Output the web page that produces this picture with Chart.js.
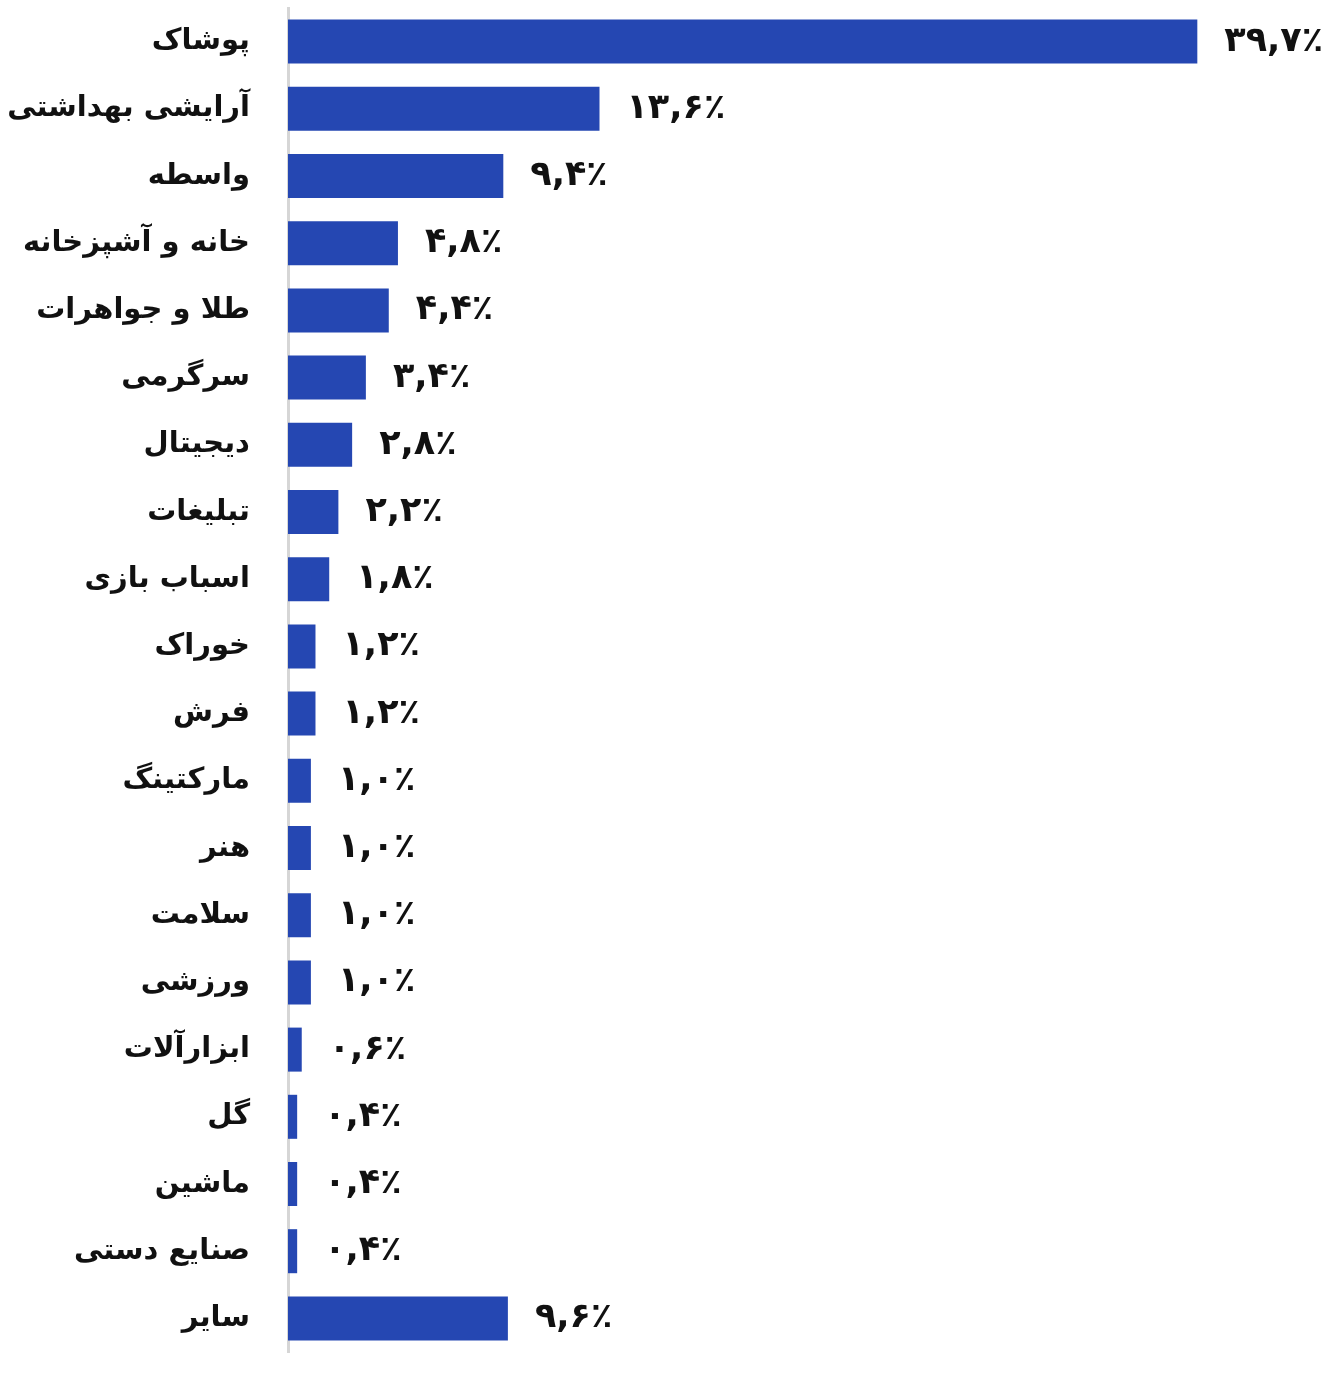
<!DOCTYPE html>
<html>
<head>
<meta charset="utf-8">
<script src="https://cdn.jsdelivr.net/npm/chart.js@4"></script>
<style>
  body { margin: 0; background: #fff; }
</style>
</head>
<body>
<canvas id="barChart" width="1344" height="1392"></canvas>
<script>
var categories = ['پوشاک', 'آرایشی بهداشتی', 'واسطه', 'خانه و آشپزخانه', 'طلا و جواهرات',
  'سرگرمی', 'دیجیتال', 'تبلیغات', 'اسباب بازی', 'خوراک', 'فرش', 'مارکتینگ', 'هنر',
  'سلامت', 'ورزشی', 'ابزارآلات', 'گل', 'ماشین', 'صنایع دستی', 'سایر'];
var shares = [39.7, 13.6, 9.4, 4.8, 4.4, 3.4, 2.8, 2.2, 1.8, 1.2, 1.2, 1.0, 1.0, 1.0, 1.0, 0.6, 0.4, 0.4, 0.4, 9.6];

var faDigits = '۰۱۲۳۴۵۶۷۸۹';
function toPersian(v) {
  return v.toFixed(1).replace(/[0-9]/g, function (d) { return faDigits[d]; }).replace('.', ',') + '٪';
}

// value labels to the right of every bar
var valueLabels = {
  id: 'valueLabels',
  afterDatasetsDraw: function (chart) {
    var ctx = chart.ctx;
    var meta = chart.getDatasetMeta(0);
    ctx.save();
    ctx.font = 'bold 35px "DejaVu Sans"';
    ctx.fillStyle = '#111';
    ctx.textAlign = 'left';
    ctx.textBaseline = 'middle';
    meta.data.forEach(function (bar, i) {
      ctx.fillText(toPersian(shares[i]), bar.x + 27, bar.y);
    });
    ctx.restore();
  }
};

new Chart(document.getElementById('barChart').getContext('2d'), {
  type: 'bar',
  data: {
    labels: categories,
    datasets: [{
      data: shares,
      backgroundColor: '#2547b2',
      categoryPercentage: 1,
      barPercentage: 0.655
    }]
  },
  options: {
    indexAxis: 'y',
    responsive: false,
    animation: false,
    layout: { padding: { top: 8, bottom: 40, right: 94, left: 0 } },
    plugins: { legend: { display: false }, tooltip: { enabled: false } },
    scales: {
      x: { display: false, min: 0, max: 42 },
      y: {
        afterFit: function (axis) {
          axis.width = 288;
          axis.paddingTop = 0;
          axis.paddingBottom = 0;
        },
        grid: { display: false },
        border: { display: true, color: '#d6d6d6', width: 3 },
        ticks: {
          padding: 30,
          color: '#111',
          font: { family: '"DejaVu Sans"', size: 29, weight: 'bold' }
        }
      }
    }
  },
  plugins: [valueLabels]
});
</script>
</body>
</html>
